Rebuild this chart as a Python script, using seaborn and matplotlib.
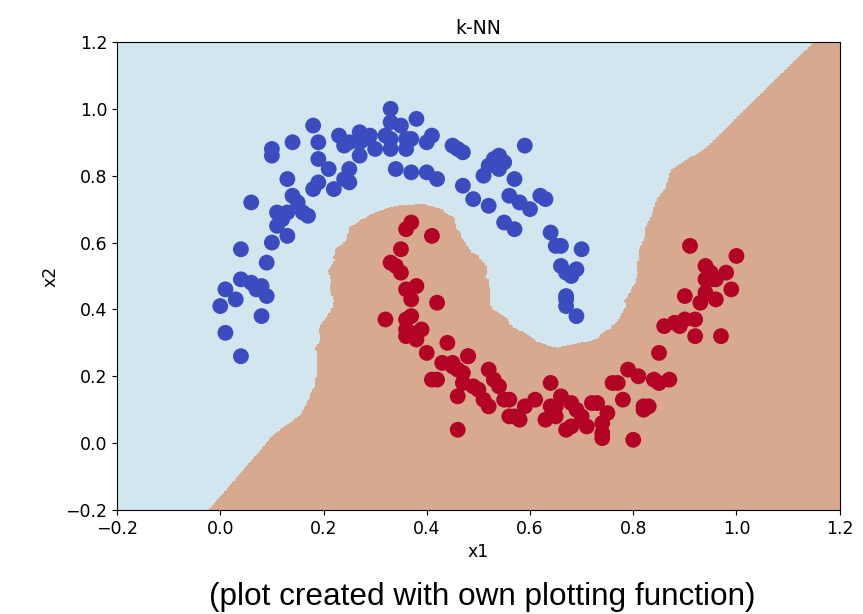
import numpy as np
import pandas as pd
import seaborn as sns
import matplotlib.pyplot as plt
from matplotlib.colors import ListedColormap

# points (x1, x2)
blue_x1 = [0.00, 0.01, 0.01, 0.03, 0.04, 0.04, 0.04, 0.06, 0.06, 0.07, 0.08, 0.08,
           0.09, 0.09, 0.10, 0.10, 0.10, 0.11, 0.11, 0.12, 0.13, 0.13, 0.14, 0.13,
           0.14, 0.16, 0.17, 0.15, 0.18, 0.18, 0.19, 0.19, 0.19, 0.21, 0.22, 0.23,
           0.24, 0.24, 0.25, 0.25, 0.25, 0.27, 0.27, 0.27, 0.28, 0.29, 0.30, 0.32,
           0.33, 0.33, 0.33, 0.33, 0.34, 0.35, 0.36, 0.36, 0.37, 0.37, 0.38, 0.40,
           0.40, 0.41, 0.42, 0.45, 0.46, 0.47, 0.47, 0.49, 0.52, 0.51, 0.52, 0.53,
           0.54, 0.54, 0.55, 0.55, 0.56, 0.57, 0.58, 0.57, 0.59, 0.60, 0.62, 0.63,
           0.64, 0.65, 0.66, 0.66, 0.67, 0.67, 0.67, 0.67, 0.68, 0.69, 0.69, 0.70]
blue_x2 = [0.41, 0.46, 0.33, 0.43, 0.26, 0.58, 0.49, 0.48, 0.72, 0.46, 0.47, 0.38,
           0.44, 0.54, 0.60, 0.88, 0.86, 0.69, 0.65, 0.67, 0.62, 0.69, 0.74, 0.79,
           0.90, 0.69, 0.68, 0.72, 0.76, 0.95, 0.85, 0.78, 0.90, 0.82, 0.76, 0.92,
           0.79, 0.89, 0.82, 0.78, 0.90, 0.93, 0.90, 0.86, 0.91, 0.92, 0.88, 0.92,
           1.00, 0.96, 0.91, 0.88, 0.82, 0.95, 0.91, 0.88, 0.81, 0.91, 0.97, 0.81,
           0.90, 0.92, 0.79, 0.89, 0.88, 0.87, 0.77, 0.73, 0.71, 0.80, 0.83, 0.85,
           0.86, 0.82, 0.84, 0.66, 0.74, 0.79, 0.72, 0.64, 0.89, 0.70, 0.74, 0.73,
           0.63, 0.59, 0.59, 0.53, 0.44, 0.41, 0.43, 0.51, 0.50, 0.38, 0.52, 0.58]

red_x1 = [0.32, 0.33, 0.34, 0.35, 0.35, 0.36, 0.37, 0.38, 0.36, 0.37, 0.36, 0.37,
          0.36, 0.36, 0.37, 0.38, 0.39, 0.41, 0.42, 0.40, 0.41, 0.42, 0.43, 0.44,
          0.45, 0.45, 0.46, 0.46, 0.47, 0.47, 0.48, 0.48, 0.49, 0.50, 0.51, 0.52,
          0.52, 0.53, 0.54, 0.55, 0.56, 0.56, 0.57, 0.58, 0.59, 0.61, 0.63, 0.64,
          0.64, 0.65, 0.65, 0.66, 0.67, 0.68, 0.68, 0.69, 0.70, 0.71, 0.72, 0.73,
          0.74, 0.74, 0.75, 0.76, 0.77, 0.78, 0.79, 0.81, 0.80, 0.82, 0.82, 0.83,
          0.84, 0.85, 0.85, 0.86, 0.87, 0.88, 0.89, 0.90, 0.90, 0.91, 0.92, 0.92,
          0.93, 0.94, 0.94, 0.95, 0.94, 0.96, 0.95, 0.96, 0.97, 0.98, 0.99, 1.00,
          0.46, 0.74]
red_x2 = [0.37, 0.54, 0.53, 0.51, 0.58, 0.64, 0.66, 0.47, 0.46, 0.43, 0.37, 0.38,
          0.34, 0.32, 0.33, 0.31, 0.34, 0.62, 0.42, 0.27, 0.19, 0.19, 0.24, 0.30,
          0.24, 0.23, 0.22, 0.14, 0.18, 0.21, 0.26, 0.26, 0.17, 0.16, 0.13, 0.11,
          0.22, 0.19, 0.17, 0.13, 0.13, 0.08, 0.08, 0.07, 0.11, 0.13, 0.07, 0.18,
          0.11, 0.08, 0.11, 0.14, 0.04, 0.05, 0.12, 0.10, 0.08, 0.05, 0.12, 0.12,
          0.06, 0.03, 0.09, 0.18, 0.18, 0.13, 0.22, 0.20, 0.01, 0.10, 0.11, 0.11,
          0.19, 0.18, 0.27, 0.35, 0.19, 0.36, 0.35, 0.44, 0.37, 0.59, 0.37, 0.32,
          0.42, 0.49, 0.45, 0.51, 0.53, 0.43, 0.49, 0.49, 0.32, 0.51, 0.46, 0.56,
          0.04, 0.015]

k = 5
xmin, xmax, ymin, ymax = -0.2, 1.2, -0.2, 1.2

df = pd.DataFrame({
    "x1": blue_x1 + red_x1,
    "x2": blue_x2 + red_x2,
    "label": [0] * len(blue_x1) + [1] * len(red_x1),
})

# k-NN prediction on a grid
gx, gy = np.meshgrid(np.linspace(xmin, xmax, 450), np.linspace(ymin, ymax, 450))
grid = np.c_[gx.ravel(), gy.ravel()]
pts = df[["x1", "x2"]].to_numpy()
lab = df["label"].to_numpy()
d = (grid ** 2).sum(1)[:, None] - 2 * grid @ pts.T + (pts ** 2).sum(1)[None, :]
nn = np.argpartition(d, k, axis=1)[:, :k]
pred = (lab[nn].mean(axis=1) > 0.5).astype(float).reshape(gx.shape)

sns.set_style("ticks")
plt.rcParams['font.family'] = ['DejaVu Sans']
plt.rcParams['text.color'] = 'black'
plt.rcParams['axes.labelcolor'] = 'black'
plt.rcParams['xtick.color'] = 'black'
plt.rcParams['ytick.color'] = 'black'

fig = plt.figure(figsize=(8.63, 6.14), dpi=100)
ax = fig.add_axes([0.1356, 0.1694, 0.8374, 0.7622])

ax.contourf(gx, gy, pred, levels=[-0.5, 0.5, 1.5],
            cmap=ListedColormap(["#d2e6ef", "#d7a98f"]))
sns.scatterplot(data=df, x="x1", y="x2", hue="label",
                palette={0: "#3b4cc0", 1: "#b40426"}, s=130,
                edgecolor="none", legend=False, ax=ax)

ax.set_xlim(xmin, xmax)
ax.set_ylim(ymin, ymax)
ax.set_xticks(np.arange(-0.2, 1.21, 0.2))
ax.set_yticks(np.arange(-0.2, 1.21, 0.2))
ax.tick_params(labelsize=12.5)
ax.set_xlabel("x1", fontsize=12.5)
ax.set_ylabel("x2", fontsize=12.5)
ax.set_title("k-NN", fontsize=13.5)
for sp in ax.spines.values():
    sp.set_visible(True)
    sp.set_color("black")

fig.text(0.559, 0.027, "(plot created with own plotting function)",
         ha="center", va="center", fontsize=22.7,
         family=["Liberation Sans", "DejaVu Sans"])

fig.savefig("out.png", dpi=100)
